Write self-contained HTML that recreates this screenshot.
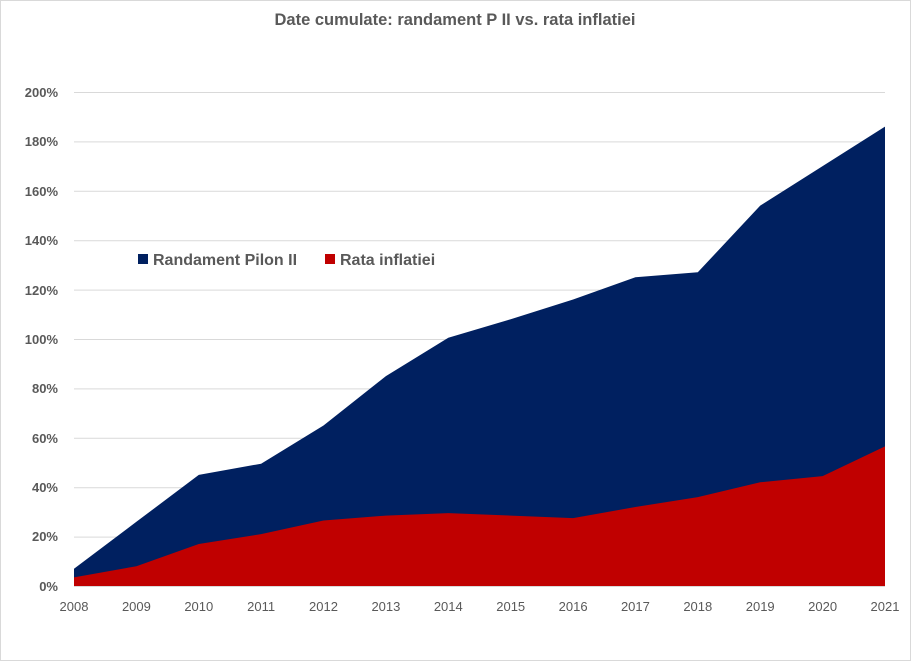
<!DOCTYPE html>
<html><head><meta charset="utf-8"><style>
body{margin:0;background:#fff;}
svg{display:block;font-family:"Liberation Sans",Arial,sans-serif;}
</style></head><body>
<svg width="911" height="661" viewBox="0 0 911 661">
<rect x="0.5" y="0.5" width="910" height="660" fill="#fff" stroke="#d9d9d9"/>
<text x="455" y="25" text-anchor="middle" font-size="16.5" font-weight="bold" fill="#595959">Date cumulate: randament P II vs. rata inflatiei</text>
<g stroke="#d9d9d9" stroke-width="1">
<line x1="74" x2="885" y1="92.5" y2="92.5"/>
<line x1="74" x2="885" y1="141.9" y2="141.9"/>
<line x1="74" x2="885" y1="191.3" y2="191.3"/>
<line x1="74" x2="885" y1="240.7" y2="240.7"/>
<line x1="74" x2="885" y1="290.1" y2="290.1"/>
<line x1="74" x2="885" y1="339.5" y2="339.5"/>
<line x1="74" x2="885" y1="388.9" y2="388.9"/>
<line x1="74" x2="885" y1="438.3" y2="438.3"/>
<line x1="74" x2="885" y1="487.7" y2="487.7"/>
<line x1="74" x2="885" y1="537.1" y2="537.1"/>
</g>
<polygon fill="#002060" points="74,586 74,568.7 136.4,521.8 198.8,474.9 261.1,463.7 323.5,425.5 385.9,376.1 448.3,337.8 510.7,319.2 573.1,299.5 635.4,277.3 697.8,272.3 760.2,205.6 822.6,166.1 885,126.6 885,586"/>
<polygon fill="#c00000" points="74,586 74,577.4 136.4,566.2 198.8,544 261.1,534.1 323.5,520.5 385.9,515.6 448.3,513.1 510.7,515.6 573.1,518.1 635.4,507 697.8,497.1 760.2,482.3 822.6,476.1 885,446.4 885,586"/>
<line x1="74" x2="885" y1="586.5" y2="586.5" stroke="#d9d9d9"/>
<g font-size="13" font-weight="bold" fill="#595959" text-anchor="end">
<text x="58" y="97">200%</text><text x="58" y="146">180%</text><text x="58" y="196">160%</text>
<text x="58" y="245">140%</text><text x="58" y="295">120%</text><text x="58" y="344">100%</text>
<text x="58" y="393">80%</text><text x="58" y="443">60%</text><text x="58" y="492">40%</text>
<text x="58" y="541">20%</text><text x="58" y="591">0%</text>
</g>
<g font-size="13" fill="#595959" text-anchor="middle">
<text x="74" y="611">2008</text><text x="136.4" y="611">2009</text><text x="198.8" y="611">2010</text>
<text x="261.1" y="611">2011</text><text x="323.5" y="611">2012</text><text x="385.9" y="611">2013</text>
<text x="448.3" y="611">2014</text><text x="510.7" y="611">2015</text><text x="573.1" y="611">2016</text>
<text x="635.4" y="611">2017</text><text x="697.8" y="611">2018</text><text x="760.2" y="611">2019</text>
<text x="822.6" y="611">2020</text><text x="885" y="611">2021</text>
</g>
<rect x="138" y="254" width="10" height="10" fill="#002060"/>
<text x="153" y="265" font-size="16" font-weight="bold" fill="#595959">Randament Pilon II</text>
<rect x="325" y="254" width="10" height="10" fill="#c00000"/>
<text x="340" y="265" font-size="16" font-weight="bold" fill="#595959">Rata inflatiei</text>
</svg>
</body></html>
